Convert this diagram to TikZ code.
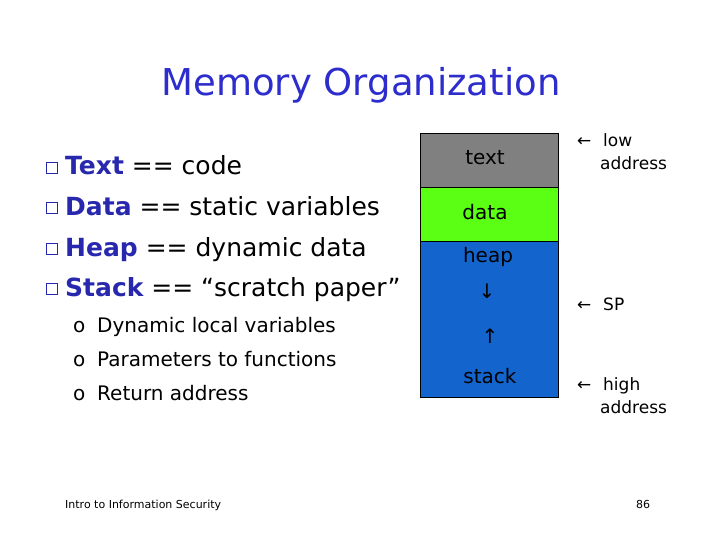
\documentclass[tikz,border=0pt]{standalone}
\usepackage{fontspec}
\setmainfont{DejaVu Sans}
\newfontfamily\djv{DejaVu Sans}
\definecolor{ttl}{RGB}{45,45,205}
\definecolor{kw}{RGB}{40,40,175}
\definecolor{gr}{RGB}{128,128,128}
\definecolor{gn}{RGB}{90,255,20}
\definecolor{bl}{RGB}{20,100,205}
\begin{document}
\begin{tikzpicture}[x=1pt,y=-1pt,
  bul/.style={anchor=base west,font=\fontsize{25}{28}\selectfont,inner sep=0},
  sub/.style={anchor=base west,font=\fontsize{20}{24}\selectfont,inner sep=0},
  lab/.style={anchor=base,font=\fontsize{20}{24}\selectfont,inner sep=0},
  rl/.style={anchor=base west,font=\fontsize{17}{20}\selectfont,inner sep=0},
  arr/.style={anchor=base west,font=\fontsize{17}{20}\selectfont,inner sep=0},
  sq/.style={draw=kw,line width=0.9pt,minimum size=11pt,inner sep=0}]
\useasboundingbox (0,0) rectangle (720,540);
\fill[white] (0,0) rectangle (720,540);
\node[font=\fontsize{37}{42}\selectfont,text=ttl,anchor=base] (title) at (361,96) {Memory Organization};
% bullets
\foreach \y/\n in {168/a,208/b,249/c,289/d}{\node[sq] (s\n) at (52,\y) {};}
\node[bul] (b1) at (65,175) {\textbf{\color{kw}Text} == code};
\node[bul] (b2) at (65,215) {\textbf{\color{kw}Data} == static variables};
\node[bul] (b3) at (65,256) {\textbf{\color{kw}Heap} == dynamic data};
\node[bul] (b4) at (65,296) {\textbf{\color{kw}Stack} == “scratch paper”};
\node[sub] (o1) at (73,332) {o};
\node[sub] (o2) at (73,366) {o};
\node[sub] (o3) at (73,400) {o};
\node[sub] (c1) at (97,332) {Dynamic local variables};
\node[sub] (c2) at (97,366) {Parameters to functions};
\node[sub] (c3) at (97,400) {Return address};
% memory
\fill[gr] (420,133) rectangle (558,187);
\fill[gn] (420,187) rectangle (558,241);
\fill[bl] (420,241) rectangle (558,397);
\draw[line width=0.6pt] (420,133) rectangle (558,397) (420,187)--(558,187) (420,241)--(558,241);
\node[lab] (t) at (485,165) {text};
\node[lab] (dd) at (485,219) {data};
\node[lab] (h) at (488,262) {heap};
\node[lab] (da) at (487,298) {↓};
\node[lab] (ua) at (490,343) {↑};
\node[lab] (st) at (490,383) {stack};
% right labels
\node[arr] (a1) at (577,147) {←};
\node[rl] (l1) at (603,147) {low};
\node[rl] (l2) at (600,170) {address};
\node[arr] (a2) at (577,310) {←};
\node[rl] (sp) at (603,310) {SP};
\node[arr] (a3) at (577,390) {←};
\node[rl] (h1) at (603,390) {high};
\node[rl] (h2) at (600,413) {address};
% footer
\node[anchor=base west,font=\fontsize{11}{13}\selectfont,inner sep=0] (f) at (65,508) {Intro to Information Security};
\node[anchor=base,font=\fontsize{11}{13}\selectfont,inner sep=0] (pg) at (643,508) {86};
\end{tikzpicture}
\end{document}
